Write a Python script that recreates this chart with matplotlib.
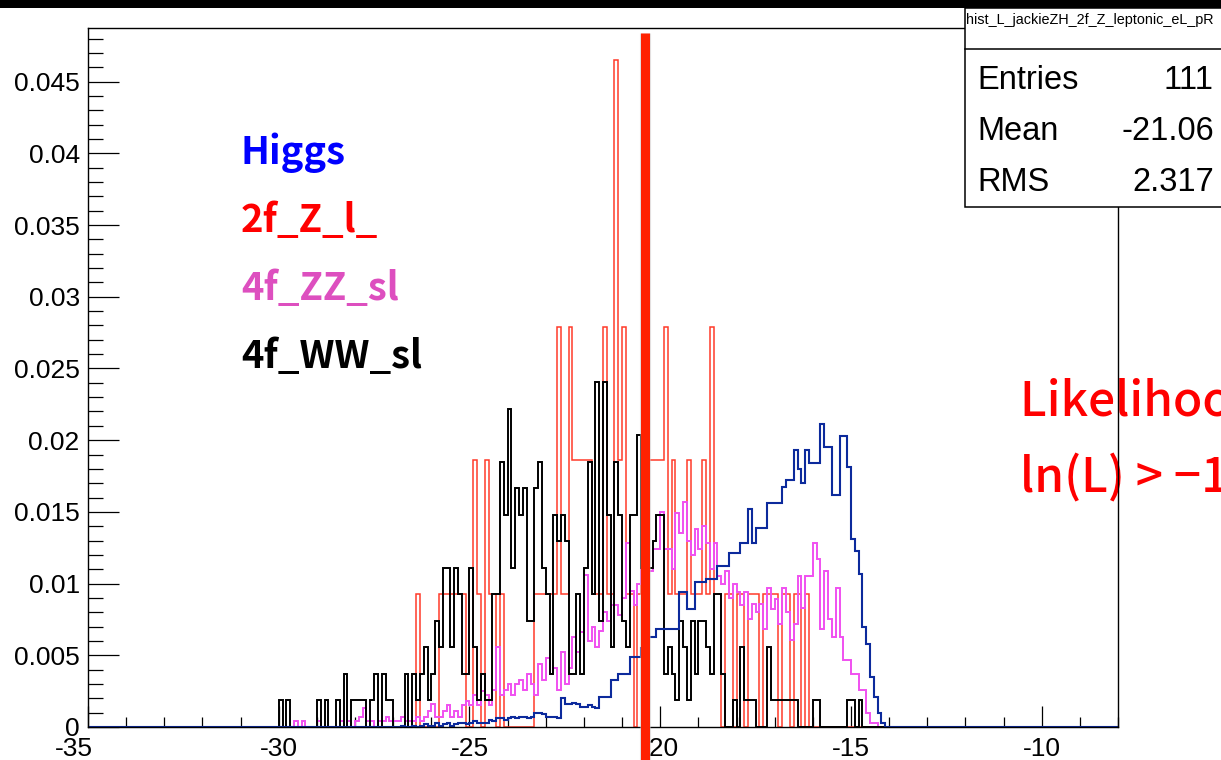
import numpy as np
import matplotlib
matplotlib.use("Agg")
import matplotlib.pyplot as plt
import matplotlib.patheffects as pe
import matplotlib.transforms as mtransforms
from matplotlib.lines import Line2D
from matplotlib.patches import Rectangle

W, H = 1221, 760
BW = 0.1                      # bin width in ln(L)
XMIN, XMAX = -35.0, -8.0
YMAX = 0.04874

# Higgs signal, normalised heights (units of 1e-3), first bin at higgs_lo
higgs_lo = -27.0
higgs = [
    0, 0, 0.1, 0, 0, 0.1, 0, 0.1, 0.2, 0.1,
    0.1, 0.3, 0.1, 0.2, 0.3, 0.1, 0.2, 0.3, 0.3, 0.2,
    0.3, 0.4, 0.3, 0.3, 0.3, 0.5, 0.4, 0.6, 0.6, 0.5,
    0.6, 0.7, 0.6, 0.7, 0.7, 0.6, 0.7, 1.0, 1.0, 0.9,
    0.7, 0.7, 0.7, 0.6, 2.0, 1.6, 1.6, 1.7, 1.6, 1.4,
    1.4, 1.5, 1.4, 1.3, 2.1, 2.1, 2.1, 3.3, 3.3, 3.7,
    3.7, 3.7, 4.9, 4.9, 4.9, 5.5, 6.3, 6.3, 6.3, 6.8,
    6.8, 6.8, 6.8, 6.8, 6.8, 9.4, 9.4, 8.2, 8.2, 10.1,
    10.1, 10.1, 10.3, 10.3, 10.3, 11.2, 11.2, 11.2, 12.1, 12.1,
    12.1, 12.8, 12.8, 15.2, 12.8, 13.9, 13.9, 13.9, 15.6, 15.6,
    15.6, 15.6, 16.7, 17.2, 17.2, 19.3, 18.0, 17.0, 19.3, 18.4,
    18.4, 18.4, 21.1, 19.5, 19.5, 16.2, 16.2, 20.3, 20.3, 18.1,
    13.1, 12.3, 10.7, 7.0, 5.8, 3.5, 2.1, 1.0, 0.3,
]

# 4f_ZZ_sl, normalised heights (units of 1e-3)
zz_lo = -29.7
zz = [
    0, 0.4, 0, 0.4, 0, 0, 0, 0.4, 0, 0,
    0, 0, 0, 0.4, 0, 0.4, 0, 0.4, 0.7, 1.3,
    0.4, 0.4, 0, 0.4, 0.4, 0.7, 0.4, 0.4, 0.4, 0.7,
    0.4, 0.4, 0.4, 0.7, 0.4, 0.7, 1.1, 1.6, 0.7, 0.7,
    1.1, 1.5, 0.7, 1.1, 0.7, 1.5, 1.8, 1.5, 2.2, 1.5,
    2.5, 2.2, 1.5, 2.6, 5.6, 2.2, 2.6, 3.0, 2.2, 3.0,
    3.3, 2.6, 3.7, 3.0, 2.2, 4.4, 3.3, 4.8, 3.7, 4.1,
    2.6, 5.2, 3.0, 4.1, 6.3, 5.2, 6.6, 10.6, 6.0, 7.0,
    5.6, 6.7, 8.0, 7.4, 8.5, 8.5, 7.8, 9.0, 12.8, 9.5,
    8.5, 10.0, 11.0, 10.5, 10.9, 12.4, 12.4, 15.0, 12.4, 12.4,
    11.0, 14.9, 13.5, 15.7, 13.0, 12.0, 13.8, 12.4, 14.0, 12.8,
    11.0, 12.8, 10.5, 10.0, 10.9, 9.0, 10.0, 9.4, 8.5, 9.4,
    7.5, 8.6, 8.0, 8.6, 6.8, 9.7, 8.2, 8.9, 7.2, 9.7,
    8.0, 6.1, 7.2, 10.5, 8.3, 10.5, 10.5, 12.8, 11.7, 6.8,
    10.9, 7.5, 6.3, 9.7, 6.3, 4.7, 4.7, 3.7, 3.7, 2.6,
    2.6, 1.0, 0.3, 0.3,
]

# 2f_Z_l: raw counts per bin, scaled by one event weight
zl_lo = -26.4
zl_w = 0.0093
zl = [
    1, 0, 0, 0, 0, 0, 1, 1, 1, 1,
    1, 1, 1, 0, 0, 2, 1, 0, 2, 1,
    1, 0, 1, 0, 0, 0, 0, 0, 0, 0,
    0, 1, 1, 1, 1, 1, 1, 3, 1, 1,
    3, 2, 2, 2, 2, 2, 1, 1, 1, 3,
    1, 1, 5, 2, 3, 1, 1, 0, 1, 2,
    1, 2, 2, 2, 2, 3, 1, 2, 1, 1,
    1, 2, 1, 1, 1, 2, 1, 3, 1, 1,
    0, 1, 1, 0, 1, 1, 0, 1, 1, 1,
    0, 1, 1, 1, 1, 0, 1, 1, 0, 1,
    1, 0, 1,
]

# 4f_WW_sl: raw counts per bin, scaled by one event weight
ww_lo = -30.0
ww_w = 0.00185
ww = [
    1, 0, 1, 0, 0, 0, 0, 0, 0, 0,
    1, 0, 1, 0, 0, 1, 0, 2, 0, 1,
    1, 1, 1, 0, 1, 2, 0, 2, 1, 1,
    0, 0, 0, 2, 0, 2, 1, 2, 3, 1,
    2, 4, 3, 6, 6, 3, 6, 5, 2, 2,
    6, 3, 1, 2, 1, 1, 5, 5, 10, 8,
    12, 6, 9, 8, 9, 4, 4, 9, 10, 6,
    5, 2, 8, 7, 8, 7, 2, 2, 5, 2,
    6, 10, 5, 13, 4, 13, 8, 3, 10, 8,
    4, 3, 8, 8, 11, 6, 5, 6, 7, 8,
    8, 2, 3, 2, 1, 4, 3, 1, 4, 2,
    4, 4, 3, 2, 5, 5, 2, 0, 0, 1,
    0, 3, 1, 1, 1, 0, 0, 0, 3, 1,
    1, 1, 1, 1, 1, 1, 0, 0, 0, 0,
    1, 1, 0, 0, 0, 0, 0, 0, 0, 1,
    1, 0, 1,
]

legend_names = ["Higgs", "2f_Z_l_", "4f_ZZ_sl", "4f_WW_sl"]
legend_colors = ["#0000ff", "#ff0000", "#dd4fbf", "#000000"]

stats_title = "hist_L_jackieZH_2f_Z_leptonic_eL_pR"
stats_names = ["Entries", "Mean", "RMS"]
stats_values = ["111", "-21.06", "2.317"]

cut_value = -20.4
cut_text = ["Likelihood cut", "ln(L) > \u221219"]

xticks = [-35, -30, -25, -20, -15, -10]
yticks = [0, 0.005, 0.01, 0.015, 0.02, 0.025, 0.03, 0.035, 0.04, 0.045]
ylabels = ["0", "0.005", "0.01", "0.015", "0.02", "0.025", "0.03",
           "0.035", "0.04", "0.045"]

nb = int(round((XMAX - XMIN) / BW))
edges = XMIN + BW * np.arange(nb + 1)


def full_range(lo, vals, scale):
    out = np.zeros(nb)
    i0 = int(round((lo - XMIN) / BW))
    out[i0:i0 + len(vals)] = np.asarray(vals, float) * scale
    return out


def fx(px):
    return px / W


def fy(py):
    return 1 - py / H


fig = plt.figure(figsize=(W / 100, H / 100), dpi=100)
fig.patch.set_facecolor("white")
ax = fig.add_axes([fx(88), 1 - 727 / H, 1030 / W, 699 / H])
ax.set_xlim(XMIN, XMAX)
ax.set_ylim(0, YMAX)

ax.stairs(full_range(zl_lo, zl, zl_w), edges, color="#ff3a2a", lw=1.1,
          clip_on=False, zorder=3)
ax.stairs(full_range(zz_lo, zz, 1e-3), edges, color="#f050f0", lw=1.4,
          clip_on=False, zorder=3)
ax.stairs(full_range(ww_lo, ww, ww_w), edges, color="black", lw=1.4,
          clip_on=False, zorder=3)
ax.stairs(full_range(higgs_lo, higgs, 1e-3), edges, color="#0c2a9c", lw=1.5,
          clip_on=False, zorder=3)

for s in ax.spines.values():
    s.set_linewidth(1.0)
    s.set_zorder(4)

ax.set_xticks(xticks)
ax.set_xticklabels([str(t) for t in xticks])
ax.set_xticks(np.arange(-35, -8 + 0.5, 1), minor=True)
ax.set_yticks(yticks)
ax.set_yticklabels(ylabels)
ax.set_yticks(np.arange(0, 0.0486, 0.001), minor=True)
ax.tick_params(axis="x", which="major", direction="in", length=15, width=0.9,
               pad=7, labelsize=19)
ax.tick_params(axis="x", which="minor", direction="in", length=7.5, width=0.9)
ax.tick_params(axis="y", which="major", direction="in", length=22, width=0.9,
               pad=6, labelsize=19)
ax.tick_params(axis="y", which="minor", direction="in", length=11, width=0.9)
for lab in ax.get_xticklabels() + ax.get_yticklabels():
    lab.set_family("Liberation Sans")
# first x label sits a little to the left of its tick
first = ax.get_xticklabels()[0]
first.set_transform(first.get_transform() +
                    mtransforms.ScaledTranslation(-14 / 100, 0, fig.dpi_scale_trans))

# likelihood cut annotation, sitting under the frame line
for i, t in enumerate(cut_text):
    ax.text(fx(1020), fy(415 + 77 * i), t, transform=fig.transFigure,
            color="#ff0000", fontsize=34.5, family=["Noto Sans CJK JP", "DejaVu Sans"],
            fontweight="medium", va="baseline", ha="left", clip_on=False, zorder=1)

# sample labels
for i, (name, c) in enumerate(zip(legend_names, legend_colors)):
    fig.text(fx(241), fy(164 + 68 * i), name, color=c, fontsize=27.5,
             family=["Noto Sans CJK JP", "DejaVu Sans"], fontweight="bold",
             va="baseline", ha="left")

# statistics box
fig.patches.append(Rectangle((fx(965), fy(207)), fx(300), 199 / H,
                             transform=fig.transFigure, facecolor="white",
                             edgecolor="black", lw=1.1, zorder=2))
fig.lines.append(Line2D([fx(965), 1.0], [fy(49), fy(49)], transform=fig.transFigure,
                        color="black", lw=1.1, zorder=3))
fig.text(fx(966), fy(24), stats_title, fontsize=10.4, family="Liberation Sans",
         va="baseline", ha="left", zorder=4)
for i, (n, v) in enumerate(zip(stats_names, stats_values)):
    fig.text(fx(977), fy(89 + 51 * i), n, fontsize=23.5, family="Liberation Sans",
             va="baseline", ha="left", zorder=4)
    fig.text(fx(1214), fy(89 + 51 * i), v, fontsize=23.5, family="Liberation Sans",
             va="baseline", ha="right", zorder=4)

# black band across the top
fig.patches.append(Rectangle((0, fy(8)), 1, 8 / H, transform=fig.transFigure,
                             facecolor="black", edgecolor="none", zorder=5))

# cut position marker
cut_px = 88 + (cut_value - XMIN) / (XMAX - XMIN) * 1030
fig.lines.append(Line2D([fx(cut_px), fx(cut_px)], [fy(33), 0],
                        transform=fig.transFigure, color="#ff2200", lw=6.5,
                        solid_capstyle="butt", zorder=6,
                        path_effects=[pe.Stroke(linewidth=8, foreground="#c8c8c8",
                                                alpha=0.5), pe.Normal()]))

fig.savefig("out.png", dpi=100)
